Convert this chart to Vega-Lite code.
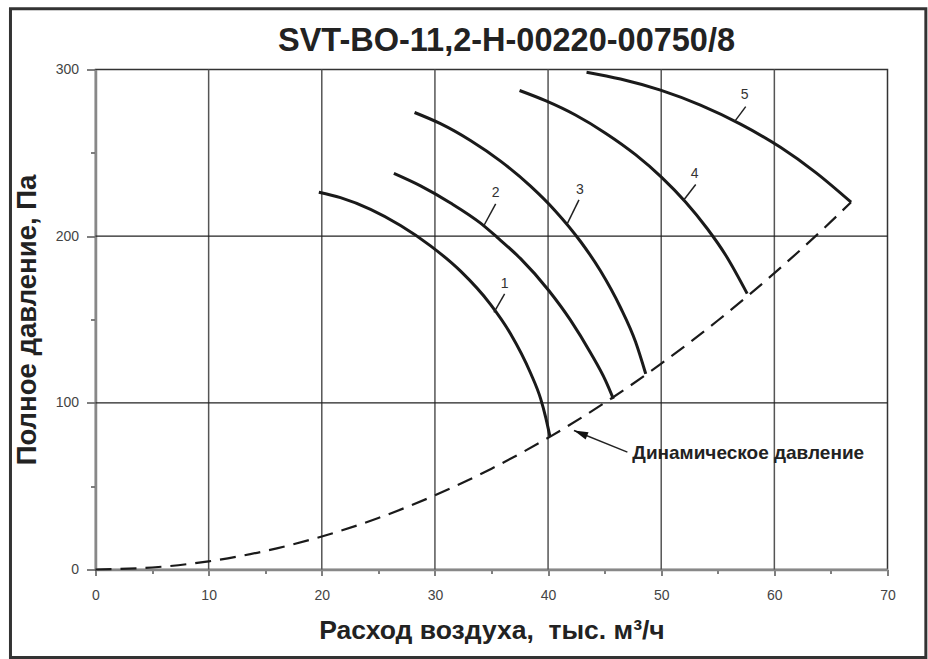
{
  "$schema": "https://vega.github.io/schema/vega-lite/v6.json",
  "width": 792,
  "height": 500,
  "padding": {"left": 8.5, "top": 6.5, "right": 1, "bottom": 0},
  "background": "white",
  "config": {
    "font": "Liberation Sans",
    "view": {"stroke": "#333", "strokeWidth": 1.5}
  },
  "title": {
    "text": "SVT-BO-11,2-H-00220-00750/8",
    "fontSize": 32.5,
    "fontWeight": "bold",
    "color": "#222",
    "baseline": "alphabetic",
    "offset": -76.5,
    "dx": 15
  },
  "datasets": {
    "curves": [
      {"curve": "1", "x": 19.74, "y": 226.4},
      {"curve": "1", "x": 21.65, "y": 223.1},
      {"curve": "1", "x": 24.31, "y": 216.1},
      {"curve": "1", "x": 26.96, "y": 206.4},
      {"curve": "1", "x": 29.61, "y": 194.2},
      {"curve": "1", "x": 32.27, "y": 179.0},
      {"curve": "1", "x": 34.91, "y": 159.1},
      {"curve": "1", "x": 36.68, "y": 141.5},
      {"curve": "1", "x": 38.45, "y": 117.9},
      {"curve": "1", "x": 39.34, "y": 102.5},
      {"curve": "1", "x": 39.8, "y": 91.0},
      {"curve": "1", "x": 40.17, "y": 79.7},
      {"curve": "2", "x": 26.37, "y": 237.7},
      {"curve": "2", "x": 28.73, "y": 230.2},
      {"curve": "2", "x": 31.38, "y": 219.9},
      {"curve": "2", "x": 34.03, "y": 207.8},
      {"curve": "2", "x": 35.5, "y": 199.3},
      {"curve": "2", "x": 37.57, "y": 186.5},
      {"curve": "2", "x": 40.06, "y": 167.4},
      {"curve": "2", "x": 41.98, "y": 149.6},
      {"curve": "2", "x": 43.75, "y": 130.0},
      {"curve": "2", "x": 45.08, "y": 113.3},
      {"curve": "2", "x": 45.77, "y": 102.4},
      {"curve": "3", "x": 28.2, "y": 274.2},
      {"curve": "3", "x": 30.49, "y": 267.5},
      {"curve": "3", "x": 33.14, "y": 257.4},
      {"curve": "3", "x": 35.8, "y": 245.0},
      {"curve": "3", "x": 38.45, "y": 230.0},
      {"curve": "3", "x": 40.66, "y": 215.0},
      {"curve": "3", "x": 42.87, "y": 196.8},
      {"curve": "3", "x": 44.64, "y": 179.1},
      {"curve": "3", "x": 46.4, "y": 157.2},
      {"curve": "3", "x": 47.73, "y": 136.6},
      {"curve": "3", "x": 48.63, "y": 117.4},
      {"curve": "4", "x": 37.48, "y": 287.4},
      {"curve": "4", "x": 39.77, "y": 281.3},
      {"curve": "4", "x": 42.42, "y": 272.7},
      {"curve": "4", "x": 45.08, "y": 261.8},
      {"curve": "4", "x": 47.73, "y": 248.9},
      {"curve": "4", "x": 50.04, "y": 235.3},
      {"curve": "4", "x": 52.15, "y": 220.5},
      {"curve": "4", "x": 54.06, "y": 204.6},
      {"curve": "4", "x": 55.69, "y": 188.7},
      {"curve": "4", "x": 57.6, "y": 165.5},
      {"curve": "5", "x": 43.4, "y": 298.4},
      {"curve": "5", "x": 46.4, "y": 294.3},
      {"curve": "5", "x": 49.94, "y": 287.6},
      {"curve": "5", "x": 53.47, "y": 278.6},
      {"curve": "5", "x": 57.01, "y": 267.2},
      {"curve": "5", "x": 60.54, "y": 253.3},
      {"curve": "5", "x": 63.64, "y": 238.3},
      {"curve": "5", "x": 66.78, "y": 220.4}
    ],
    "dynamic": [
      {"x": 0, "y": 0},
      {"x": 5, "y": 1.2},
      {"x": 10, "y": 4.9},
      {"x": 15, "y": 11.1},
      {"x": 20, "y": 19.8},
      {"x": 25, "y": 30.9},
      {"x": 30, "y": 44.5},
      {"x": 35, "y": 60.5},
      {"x": 40, "y": 79.0},
      {"x": 45, "y": 100.0},
      {"x": 50, "y": 123.5},
      {"x": 55, "y": 149.4},
      {"x": 60, "y": 177.8},
      {"x": 65, "y": 208.7},
      {"x": 66.78, "y": 220.4}
    ],
    "labels": [
      {"label": "1", "x": 36.16, "y": 171.5, "lx": 36.16, "ly": 165.4, "lx2": 35.22, "ly2": 154.3},
      {"label": "2", "x": 35.37, "y": 225.9, "lx": 35.37, "ly": 219.4, "lx2": 34.33, "ly2": 206.4},
      {"label": "3", "x": 42.82, "y": 227.9, "lx": 42.73, "ly": 221.8, "lx2": 41.7, "ly2": 207.5},
      {"label": "4", "x": 52.95, "y": 237.3, "lx": 53.05, "ly": 231.0, "lx2": 51.96, "ly2": 221.4},
      {"label": "5", "x": 57.38, "y": 284.5, "lx": 57.47, "ly": 277.7, "lx2": 56.5, "ly2": 268.9}
    ],
    "arrow": [
      {"x": 47.01, "y": 70.4, "tx": 42.29, "ty": 83.4, "text": "Динамическое давление", "textX": 47.45, "textY": 70.2}
    ],
    "gridx": [{"x": 10}, {"x": 20}, {"x": 30}, {"x": 40}, {"x": 50}, {"x": 60}],
    "gridy": [{"y": 100}, {"y": 200}]
  },
  "layer": [
    {
      "data": {"values": [{}]},
      "mark": {"type": "rect", "fill": null, "filled": false, "stroke": "#333", "strokeWidth": 3, "clip": false},
      "encoding": {
        "x": {"datum": -7.515, "type": "quantitative", "scale": {"domain": [0, 70], "nice": false, "zero": false}},
        "x2": {"datum": 73.39},
        "y": {"datum": 336.5, "type": "quantitative", "scale": {"domain": [0, 300], "nice": false, "zero": false}},
        "y2": {"datum": -52.8}
      }
    },
    {
      "data": {"name": "gridx"},
      "mark": {"type": "rule", "color": "#555", "strokeWidth": 1.5},
      "encoding": {
        "x": {"field": "x", "type": "quantitative", "scale": {"domain": [0, 70], "nice": false, "zero": false}}
      }
    },
    {
      "data": {"name": "gridy"},
      "mark": {"type": "rule", "color": "#222", "strokeWidth": 1.3},
      "encoding": {
        "y": {"field": "y", "type": "quantitative", "scale": {"domain": [0, 300], "nice": false, "zero": false}}
      }
    },
    {
      "data": {"name": "curves"},
      "mark": {"type": "line", "color": "#1a1a1a", "strokeWidth": 3, "interpolate": "monotone"},
      "encoding": {
        "x": {
          "field": "x", "type": "quantitative",
          "scale": {"domain": [0, 70], "nice": false, "zero": false},
          "axis": {
            "title": "Расход воздуха,\u00a0 тыс. м³/ч",
            "values": [0, 5, 10, 15, 20, 25, 30, 35, 40, 45, 50, 55, 60, 65, 70],
            "labelExpr": "datum.value % 10 === 0 ? datum.label : ''",
            "tickSize": {"condition": {"test": "datum.value % 10 === 0", "value": 6}, "value": 4},
            "grid": false,
            "labelFlush": false,
            "domainColor": "#888",
            "domainWidth": 2.5,
            "tickColor": "#555",
            "tickWidth": 1.5,
            "labelFontSize": 14,
            "labelColor": "#444",
            "labelPadding": 13,
            "titleFontSize": 26.5,
            "titleFontWeight": "bold",
            "titleColor": "#222",
            "titlePadding": 15
          }
        },
        "y": {
          "field": "y", "type": "quantitative",
          "scale": {"domain": [0, 300], "nice": false, "zero": false},
          "axis": {
            "title": "Полное давление, Па",
            "values": [0, 50, 100, 150, 200, 250, 300],
            "labelExpr": "datum.value % 100 === 0 ? datum.label : ''",
            "tickSize": {"condition": {"test": "datum.value % 100 === 0", "value": 9}, "value": 5},
            "grid": false,
            "domainColor": "#888",
            "domainWidth": 2.5,
            "tickColor": "#555",
            "tickWidth": 1.5,
            "labelFontSize": 14,
            "labelColor": "#444",
            "labelPadding": 8,
            "titleFontSize": 27.5,
            "titleFontWeight": "bold",
            "titleColor": "#222",
            "titlePadding": 14
          }
        },
        "detail": {"field": "curve", "type": "nominal"}
      }
    },
    {
      "data": {"name": "dynamic"},
      "mark": {"type": "line", "color": "#1a1a1a", "strokeWidth": 2.2, "strokeDash": [16, 9], "interpolate": "monotone"},
      "encoding": {
        "x": {"field": "x", "type": "quantitative", "scale": {"domain": [0, 70], "nice": false, "zero": false}},
        "y": {"field": "y", "type": "quantitative", "scale": {"domain": [0, 300], "nice": false, "zero": false}}
      }
    },
    {
      "data": {"name": "labels"},
      "mark": {"type": "rule", "color": "#222", "strokeWidth": 1.5},
      "encoding": {
        "x": {"field": "lx", "type": "quantitative", "scale": {"domain": [0, 70], "nice": false, "zero": false}},
        "y": {"field": "ly", "type": "quantitative", "scale": {"domain": [0, 300], "nice": false, "zero": false}},
        "x2": {"field": "lx2"},
        "y2": {"field": "ly2"}
      }
    },
    {
      "data": {"name": "labels"},
      "mark": {"type": "text", "fontSize": 14, "color": "#333", "baseline": "middle", "align": "center"},
      "encoding": {
        "x": {"field": "x", "type": "quantitative", "scale": {"domain": [0, 70], "nice": false, "zero": false}},
        "y": {"field": "y", "type": "quantitative", "scale": {"domain": [0, 300], "nice": false, "zero": false}},
        "text": {"field": "label"}
      }
    },
    {
      "data": {"name": "arrow"},
      "mark": {"type": "rule", "color": "#222", "strokeWidth": 1.5},
      "encoding": {
        "x": {"field": "x", "type": "quantitative", "scale": {"domain": [0, 70], "nice": false, "zero": false}},
        "y": {"field": "y", "type": "quantitative", "scale": {"domain": [0, 300], "nice": false, "zero": false}},
        "x2": {"field": "tx"},
        "y2": {"field": "ty"}
      }
    },
    {
      "data": {"name": "arrow"},
      "mark": {"type": "point", "shape": "M0,0L-0.55,2L0.55,2Z", "size": 200, "angle": 292, "filled": true, "color": "#111", "opacity": 1},
      "encoding": {
        "x": {"field": "tx", "type": "quantitative", "scale": {"domain": [0, 70], "nice": false, "zero": false}},
        "y": {"field": "ty", "type": "quantitative", "scale": {"domain": [0, 300], "nice": false, "zero": false}}
      }
    },
    {
      "data": {"name": "arrow"},
      "mark": {"type": "text", "fontSize": 19, "fontWeight": "bold", "color": "#222", "align": "left", "baseline": "middle"},
      "encoding": {
        "x": {"field": "textX", "type": "quantitative", "scale": {"domain": [0, 70], "nice": false, "zero": false}},
        "y": {"field": "textY", "type": "quantitative", "scale": {"domain": [0, 300], "nice": false, "zero": false}},
        "text": {"field": "text"}
      }
    }
  ]
}
